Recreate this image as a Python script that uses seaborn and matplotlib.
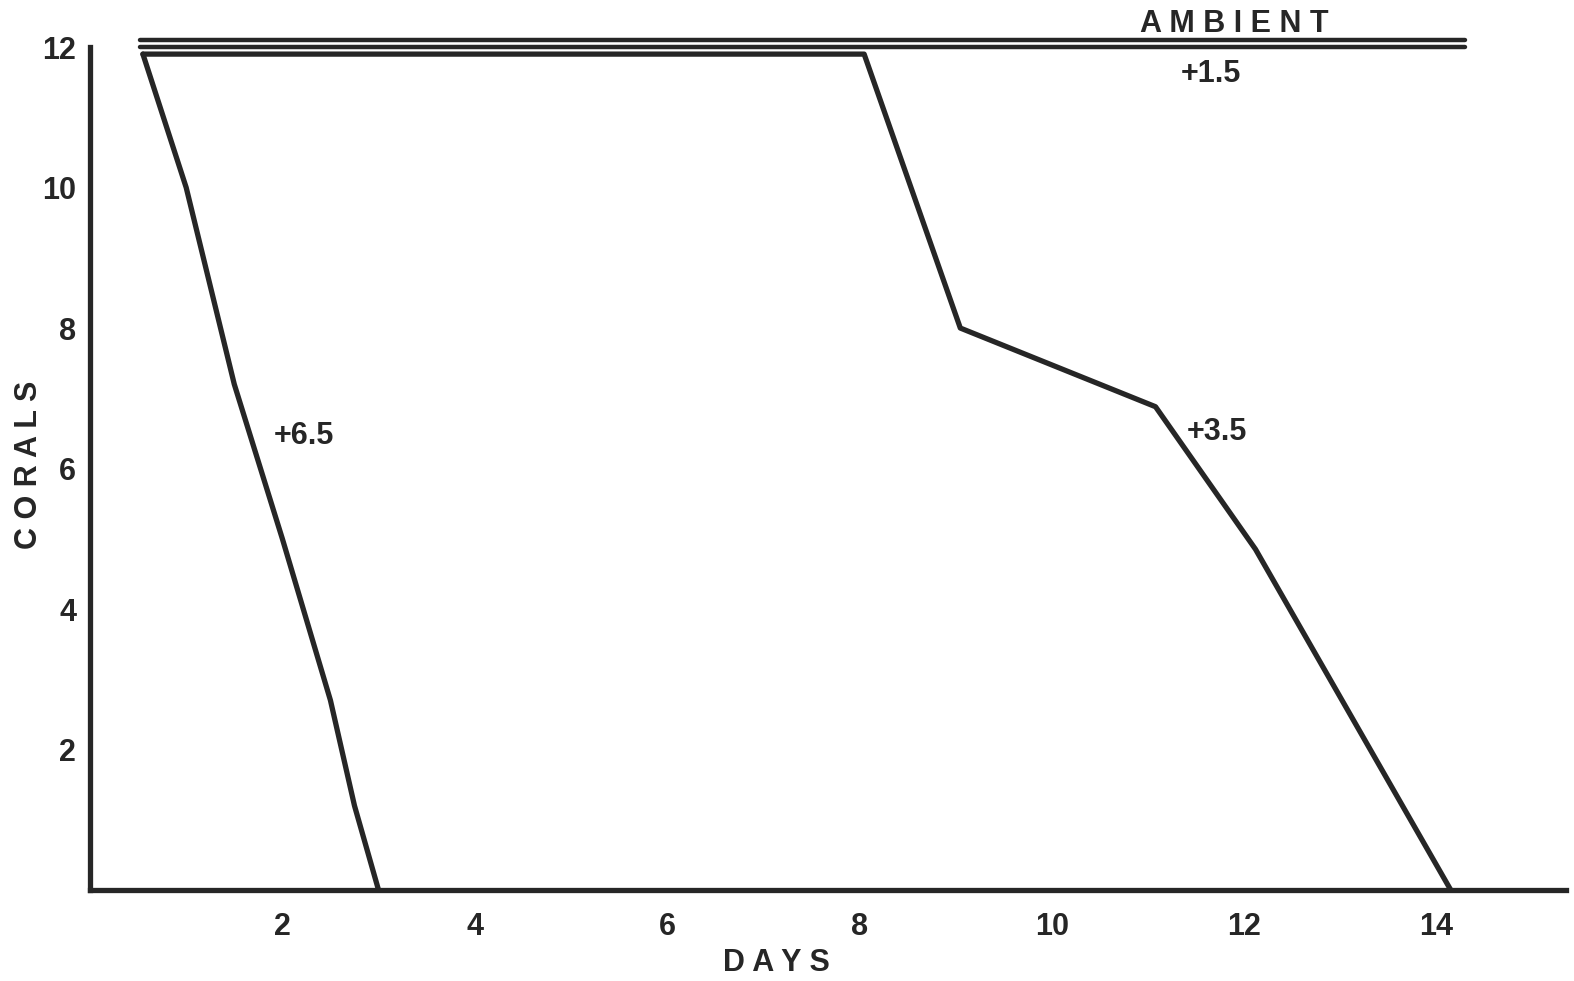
import matplotlib
matplotlib.use("Agg")
import matplotlib.pyplot as plt
import seaborn as sns
import pandas as pd

# Number of corals remaining at each temperature treatment (deg C above ambient)
days_ambient = [0.52, 14.3]
corals_ambient = [12.1, 12.1]

days_p15 = [0.52, 14.3]
corals_p15 = [12.0, 12.0]

days_p35 = [0.55, 8.05, 9.05, 11.08, 12.12, 14.15]
corals_p35 = [11.9, 11.9, 8.0, 6.88, 4.85, 0.0]

days_p65 = [0.55, 1.0, 1.5, 2.0, 2.5, 2.75, 3.0]
corals_p65 = [11.9, 10.0, 7.2, 5.0, 2.7, 1.2, 0.0]

x_ticks = [2, 4, 6, 8, 10, 12, 14]
y_ticks = [2, 4, 6, 8, 10, 12]

ink = "#262626"

sns.set_style("white")
plt.rcParams["font.family"] = ["Liberation Sans", "DejaVu Sans"]
plt.rcParams["font.weight"] = "bold"

fig = plt.figure(figsize=(15.74, 9.81), dpi=100)
ax = fig.add_axes([0.0572, 0.0928, 0.9378, 0.895])

series = [
    ("AMBIENT", days_ambient, corals_ambient, 3.2),
    ("+1.5", days_p15, corals_p15, 3.2),
    ("+3.5", days_p35, corals_p35, 3.8),
    ("+6.5", days_p65, corals_p65, 3.8),
]
for name, xs, ys, lw in series:
    df = pd.DataFrame({"days": xs, "corals": ys})
    sns.lineplot(data=df, x="days", y="corals", ax=ax, color=ink,
                 linewidth=lw, solid_capstyle="round",
                 solid_joinstyle="round", sort=False)

ax.set_xlim(0, 15.35)
ax.set_ylim(0, 12.5)

for side in ("top", "right"):
    ax.spines[side].set_visible(False)
for side in ("left", "bottom"):
    ax.spines[side].set_color(ink)
    ax.spines[side].set_linewidth(3.8)
ax.spines["left"].set_bounds(0, 12)

ax.set_xticks(x_ticks)
ax.set_xticklabels([str(v) for v in x_ticks])
ax.set_yticks(range(1, 13))
ax.set_yticklabels([str(v) if v in y_ticks else "" for v in range(1, 13)])
ax.tick_params(axis="x", length=0, pad=16, labelsize=22, colors=ink)
ax.tick_params(axis="y", direction="in", length=11, width=3.2,
               pad=10, labelsize=22, colors=ink)
for lab in ax.get_xticklabels() + ax.get_yticklabels():
    lab.set_fontweight("bold")

ax.set_xlabel("")
ax.set_ylabel("")
fig.text(0.4935, 0.018, "D A Y S", ha="center", va="center",
         fontsize=22, fontweight="bold", color=ink)
fig.text(0.0185, 0.526, "C O R A L S", ha="center", va="center",
         rotation=90, fontsize=22, fontweight="bold", color=ink)

# Series labels
ax.text(11.9, 12.33, "A M B I E N T", ha="center", va="center",
        fontsize=22, fontweight="bold", color=ink, clip_on=False)
ax.text(11.66, 11.62, "+1.5", ha="center", va="center",
        fontsize=22, fontweight="bold", color=ink)
ax.text(11.72, 6.52, "+3.5", ha="center", va="center",
        fontsize=22, fontweight="bold", color=ink)
ax.text(2.22, 6.47, "+6.5", ha="center", va="center",
        fontsize=22, fontweight="bold", color=ink)

fig.savefig("out.png", dpi=100, facecolor="white")
